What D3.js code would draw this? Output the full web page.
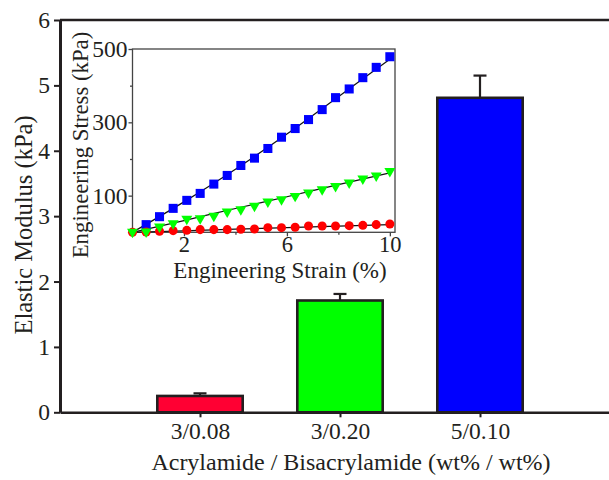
<!DOCTYPE html>
<html><head><meta charset="utf-8">
<script src="https://cdn.jsdelivr.net/npm/d3@7/dist/d3.min.js"></script>
<style>
html,body{margin:0;padding:0;background:#fff;}
svg text{font-family:"Liberation Serif","Times New Roman",Times,serif !important;}
</style></head>
<body><svg id="c" width="609" height="480"></svg>
<script>
// ---- main bar chart data ----
const categories = ["3/0.08", "3/0.20", "5/0.10"];
const modulus = [0.25, 1.71, 4.81];
const modulusErr = [0.04, 0.10, 0.34];
const barColors = ["#ff0033", "#00ff00", "#0000ff"];
const yTicks = [0, 1, 2, 3, 4, 5, 6];

// ---- inset data ----
const strain = [0,0.53,1.05,1.58,2.11,2.63,3.16,3.68,4.21,4.74,5.26,5.79,6.32,6.84,7.37,7.89,8.42,8.95,9.47,10];
const stressBlue = [null,20.9,42.6,65.3,87.1,106.1,131.5,155.1,182.3,202.3,228.6,259.4,283.0,307.5,334.7,367.3,391.0,421.8,449.9,478.9];
const stressGreen = [0.9,1.8,15.4,24.5,36.3,38.1,44.4,56.2,62.6,71.7,83.4,89.8,98.9,107.9,117.0,126.1,135.1,146.0,154.2,166.9];
const stressRed = [0,0.9,2.7,4.5,5.4,7.3,7.3,7.3,8.2,9.1,12.7,12.7,13.6,17.2,17.2,17.2,18.1,19.0,20.9,22.7];
const fitStrain = [0, 2, 4, 6, 8, 10];
const fitBlue = [0, 83, 172, 268, 370, 472];
const fitGreen = [0, 32, 65, 97, 130, 162];
const fitRed = [0, 4, 8.5, 12.5, 17, 21];
const insetYTicks = [100, 200, 300, 400, 500];
const insetYLabels = [100, 300, 500];
const insetXTicks = [2, 4, 6, 8, 10];
const insetXLabels = [2, 6, 10];

const svg = d3.select("#c");
const ink = "#231f20";
const FONT = "'Liberation Serif', 'Times New Roman', Times, serif";
const FS = 23.5;

// ---- main scales ----
const x = d3.scaleLinear().domain([0, 4]).range([60, 620]);
const y = d3.scaleLinear().domain([0, 6]).range([412.3, 20]);
const barHalf = 0.305;

// bars
const bars = svg.append("g");
categories.forEach((c, i) => {
  const xi = i + 1;
  bars.append("line").attr("x1", x(xi)).attr("x2", x(xi))
    .attr("y1", y(modulus[i])).attr("y2", y(modulus[i] + modulusErr[i]))
    .attr("stroke", ink).attr("stroke-width", 2.2);
  bars.append("line").attr("x1", x(xi) - 6.5).attr("x2", x(xi) + 6.5)
    .attr("y1", y(modulus[i] + modulusErr[i])).attr("y2", y(modulus[i] + modulusErr[i]))
    .attr("stroke", ink).attr("stroke-width", 2.2);
  bars.append("rect")
    .attr("x", x(xi - barHalf)).attr("width", x(xi + barHalf) - x(xi - barHalf))
    .attr("y", y(modulus[i])).attr("height", y(0) - y(modulus[i]))
    .attr("fill", barColors[i]).attr("stroke", ink).attr("stroke-width", 2.6);
});

function styleText(sel, fs) {
  sel.attr("font-size", fs || FS).attr("fill", ink).style("font-family", FONT);
}

// main y axis
const yAxis = svg.append("g").attr("transform", `translate(${x(0)},0)`)
  .call(d3.axisLeft(y).tickValues(yTicks).tickFormat(d3.format("d")).tickSize(6).tickSizeOuter(0).tickPadding(4));
yAxis.attr("font-family", null);
yAxis.select(".domain").attr("stroke", ink).attr("stroke-width", 3);
yAxis.selectAll(".tick line").attr("stroke", ink).attr("stroke-width", 2);
styleText(yAxis.selectAll(".tick text"));

// main x axis
const xAxis = svg.append("g").attr("transform", `translate(0,${y(0)})`)
  .call(d3.axisBottom(x).tickValues([1, 2, 3]).tickFormat(d => categories[d - 1]).tickSize(5).tickSizeOuter(0).tickPadding(5));
xAxis.attr("font-family", null);
xAxis.select(".domain").attr("stroke", ink).attr("stroke-width", 2.6);
xAxis.selectAll(".tick line").attr("stroke", ink).attr("stroke-width", 2);
styleText(xAxis.selectAll(".tick text"));

// top frame line
svg.append("line").attr("x1", x(0)).attr("x2", 609).attr("y1", y(6)).attr("y2", y(6))
  .attr("stroke", ink).attr("stroke-width", 2.4);

// main titles
styleText(svg.append("text").attr("x", 351).attr("y", 470).attr("text-anchor", "middle")
  .text("Acrylamide / Bisacrylamide (wt% / wt%)"), 24);
styleText(svg.append("text").attr("transform", "translate(32,225) rotate(-90)").attr("text-anchor", "middle")
  .text("Elastic Modulus (kPa)"), 24.5);

// ---- inset ----
const ix = d3.scaleLinear().domain([0, 10.2]).range([132.5, 395]);
const iy = d3.scaleLinear().domain([0, 500]).range([232.3, 49]);
const frameCol = "#444";

const inset = svg.append("g");
inset.append("rect").attr("x", ix(0)).attr("y", iy(500)).attr("width", ix(10.2) - ix(0)).attr("height", iy(0) - iy(500))
  .attr("fill", "#fff").attr("stroke", frameCol).attr("stroke-width", 1.3);

const iyAxis = inset.append("g").attr("transform", `translate(${ix(0)},0)`)
  .call(d3.axisLeft(iy).tickValues(insetYTicks).tickSize(4).tickSizeOuter(0).tickPadding(1)
    .tickFormat(d => insetYLabels.includes(d) ? d : ""));
iyAxis.attr("font-family", null);
iyAxis.select(".domain").remove();
iyAxis.selectAll(".tick line").attr("stroke", frameCol).attr("stroke-width", 1.3)
  .attr("x2", d => insetYLabels.includes(d) ? -4 : -2.5);
styleText(iyAxis.selectAll(".tick text"));

const ixAxis = inset.append("g").attr("transform", `translate(0,${iy(0)})`)
  .call(d3.axisBottom(ix).tickValues(insetXTicks).tickSize(4).tickSizeOuter(0).tickPadding(0)
    .tickFormat(d => insetXLabels.includes(d) ? d : ""));
ixAxis.attr("font-family", null);
ixAxis.select(".domain").remove();
ixAxis.selectAll(".tick line").attr("stroke", frameCol).attr("stroke-width", 1.3)
  .attr("y2", d => insetXLabels.includes(d) ? 4 : 2.5);
styleText(ixAxis.selectAll(".tick text"), 22.5);

styleText(inset.append("text").attr("x", 280).attr("y", 278).attr("text-anchor", "middle")
  .text("Engineering Strain (%)"), 23);
styleText(inset.append("text").attr("transform", "translate(88,145) rotate(-90)").attr("text-anchor", "middle")
  .text("Engineering Stress (kPa)"), 22.8);

// fit lines
const fitLine = d3.line().x(d => ix(d[0])).y(d => iy(d[1])).curve(d3.curveMonotoneX);
[fitBlue, fitGreen, fitRed].forEach(f => {
  inset.append("path").attr("d", fitLine(fitStrain.map((s, i) => [s, f[i]])))
    .attr("fill", "none").attr("stroke", "#111").attr("stroke-width", 1.2);
});

// markers
const sq = d3.symbol().type(d3.symbolSquare).size(82);
const ci = d3.symbol().type(d3.symbolCircle).size(64);
const tr = d3.symbol().type(d3.symbolTriangle).size(52);
function drawSeries(vals, sym, color, rot) {
  inset.append("g").selectAll("path")
    .data(strain.map((s, i) => [s, vals[i]]).filter(d => d[1] !== null))
    .join("path")
    .attr("d", sym)
    .attr("transform", d => `translate(${ix(d[0])},${iy(d[1])})${rot ? " rotate(180)" : ""}`)
    .attr("fill", color);
}
drawSeries(stressBlue, sq, "#0000ff", false);
drawSeries(stressRed, ci, "#ff0000", false);
drawSeries(stressGreen, tr, "#00ff00", true);
</script>
</body></html>
